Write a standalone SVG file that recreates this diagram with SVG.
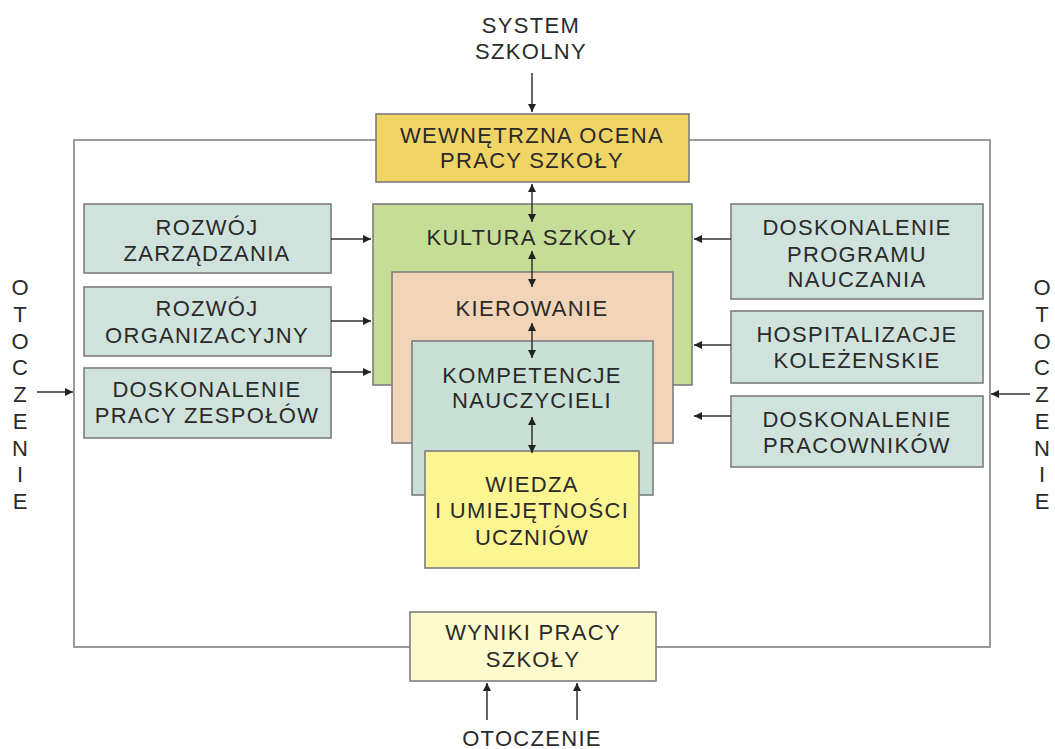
<svg xmlns="http://www.w3.org/2000/svg" width="1055" height="749" viewBox="0 0 1055 749">
<defs>
<marker id="ah" viewBox="0 0 10 10" refX="10" refY="5" markerWidth="8" markerHeight="8" markerUnits="userSpaceOnUse" orient="auto-start-reverse">
<path d="M0,0 L10,5 L0,10 z" fill="#222"/>
</marker>
<style>
.box{stroke:#7d7d7d;stroke-width:1.6}
.t{font-family:"Liberation Sans",Arial,sans-serif;font-size:22px;fill:#2a2a2a;text-anchor:middle;letter-spacing:1.3px}
.v{letter-spacing:0}
.c{stroke:#333;stroke-width:1.5;fill:none}
.frame{stroke:#9a9a9a;stroke-width:2;fill:none}
</style>
</defs>
<rect width="1055" height="749" fill="#fff"/>
<g id="frame">
<path class="frame" d="M376,140 H74 V647 H410 M656,647 H990 V140 H689"/>
</g>
<g id="system-szkolny">
<text class="t" x="531" y="33">SYSTEM</text>
<text class="t" x="531" y="59">SZKOLNY</text>
</g>
<g id="otoczenie-left">
<text class="t v" x="20" y="295">O</text><text class="t v" x="20" y="322">T</text><text class="t v" x="20" y="349">O</text><text class="t v" x="20" y="375">C</text><text class="t v" x="20" y="402">Z</text><text class="t v" x="20" y="429">E</text><text class="t v" x="20" y="456">N</text><text class="t v" x="20" y="482">I</text><text class="t v" x="20" y="509">E</text>
</g>
<g id="otoczenie-right">
<text class="t v" x="1042" y="295">O</text><text class="t v" x="1042" y="322">T</text><text class="t v" x="1042" y="349">O</text><text class="t v" x="1042" y="375">C</text><text class="t v" x="1042" y="402">Z</text><text class="t v" x="1042" y="429">E</text><text class="t v" x="1042" y="456">N</text><text class="t v" x="1042" y="482">I</text><text class="t v" x="1042" y="509">E</text>
</g>
<g id="otoczenie-bottom">
<text class="t" x="532" y="746">OTOCZENIE</text>
</g>
<g id="wewnetrzna">
<rect class="box" x="376" y="114" width="313" height="68" fill="#f1d466"/>
<text class="t" x="532" y="143">WEWNĘTRZNA OCENA</text>
<text class="t" x="532" y="168">PRACY SZKOŁY</text>
</g>
<g id="rozwoj-zarzadzania">
<rect class="box" x="84" y="204" width="247" height="69" fill="#cfe2dc"/>
<text class="t" x="207" y="235">ROZWÓJ</text>
<text class="t" x="207" y="261">ZARZĄDZANIA</text>
</g>
<g id="rozwoj-organizacyjny">
<rect class="box" x="84" y="287" width="247" height="69" fill="#cfe2dc"/>
<text class="t" x="207" y="316">ROZWÓJ</text>
<text class="t" x="207" y="343">ORGANIZACYJNY</text>
</g>
<g id="doskonalenie-zespolow">
<rect class="box" x="84" y="368" width="247" height="70" fill="#cfe2dc"/>
<text class="t" x="207" y="397">DOSKONALENIE</text>
<text class="t" x="207" y="423">PRACY ZESPOŁÓW</text>
</g>
<g id="doskonalenie-programu">
<rect class="box" x="731" y="204" width="252" height="95" fill="#cfe2dc"/>
<text class="t" x="857" y="235">DOSKONALENIE</text>
<text class="t" x="857" y="262">PROGRAMU</text>
<text class="t" x="857" y="287">NAUCZANIA</text>
</g>
<g id="hospitalizacje">
<rect class="box" x="731" y="311" width="252" height="72" fill="#cfe2dc"/>
<text class="t" x="857" y="342">HOSPITALIZACJE</text>
<text class="t" x="857" y="368">KOLEŻENSKIE</text>
</g>
<g id="doskonalenie-pracownikow">
<rect class="box" x="731" y="396" width="252" height="71" fill="#cfe2dc"/>
<text class="t" x="857" y="427">DOSKONALENIE</text>
<text class="t" x="857" y="453">PRACOWNIKÓW</text>
</g>
<g id="kultura">
<rect class="box" x="373" y="204" width="319" height="181" fill="#c6dd98"/>
<text class="t" x="532" y="245">KULTURA SZKOŁY</text>
</g>
<g id="kierowanie">
<rect class="box" x="392" y="272" width="281" height="171" fill="#f2d5b8"/>
<text class="t" x="532" y="316">KIEROWANIE</text>
</g>
<g id="kompetencje">
<rect class="box" x="412" y="341" width="241" height="154" fill="#c8e0d6"/>
<text class="t" x="532" y="383">KOMPETENCJE</text>
<text class="t" x="532" y="408">NAUCZYCIELI</text>
</g>
<g id="wiedza">
<rect class="box" x="425" y="451" width="214" height="117" fill="#fdf592"/>
<text class="t" x="532" y="492">WIEDZA</text>
<text class="t" x="532" y="518">I UMIEJĘTNOŚCI</text>
<text class="t" x="532" y="545">UCZNIÓW</text>
</g>
<g id="wyniki">
<rect class="box" x="410" y="612" width="246" height="69" fill="#fdfacc"/>
<text class="t" x="533" y="640">WYNIKI PRACY</text>
<text class="t" x="533" y="667">SZKOŁY</text>
</g>
<g id="connectors">
<line class="c" x1="532" y1="73" x2="532" y2="112" marker-end="url(#ah)"/>
<line class="c" x1="532" y1="184" x2="532" y2="222" marker-start="url(#ah)" marker-end="url(#ah)"/>
<line class="c" x1="532" y1="251" x2="532" y2="287" marker-start="url(#ah)" marker-end="url(#ah)"/>
<line class="c" x1="532" y1="323" x2="532" y2="358" marker-start="url(#ah)" marker-end="url(#ah)"/>
<line class="c" x1="532" y1="417" x2="532" y2="453" marker-start="url(#ah)" marker-end="url(#ah)"/>
<line class="c" x1="331" y1="239" x2="371" y2="239" marker-end="url(#ah)"/>
<line class="c" x1="331" y1="321" x2="371" y2="321" marker-end="url(#ah)"/>
<line class="c" x1="331" y1="372" x2="371" y2="372" marker-end="url(#ah)"/>
<line class="c" x1="731" y1="239" x2="694" y2="239" marker-end="url(#ah)"/>
<line class="c" x1="731" y1="345" x2="694" y2="345" marker-end="url(#ah)"/>
<line class="c" x1="731" y1="416" x2="694" y2="416" marker-end="url(#ah)"/>
<line class="c" x1="37" y1="392" x2="73" y2="392" marker-end="url(#ah)"/>
<line class="c" x1="1030" y1="394" x2="991" y2="394" marker-end="url(#ah)"/>
<line class="c" x1="487" y1="720" x2="487" y2="683" marker-end="url(#ah)"/>
<line class="c" x1="577" y1="720" x2="577" y2="683" marker-end="url(#ah)"/>
</g>
</svg>
